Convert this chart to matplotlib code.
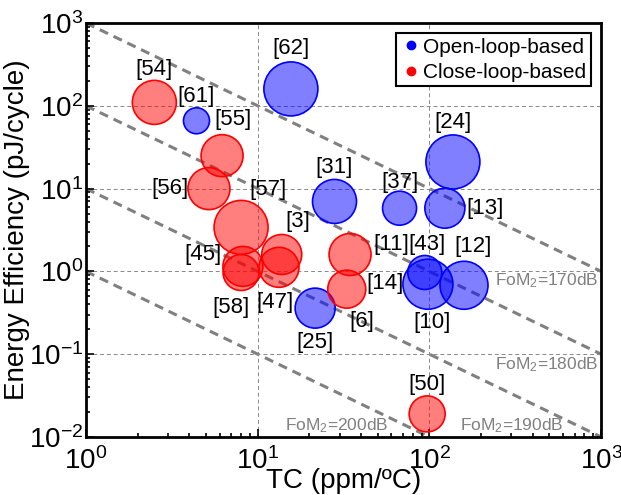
import numpy as np
import matplotlib
matplotlib.use("Agg")
import matplotlib.pyplot as plt
from matplotlib.lines import Line2D

plt.rcParams['font.family'] = ['Liberation Sans', 'DejaVu Sans']
plt.rcParams['mathtext.fontset'] = 'custom'
plt.rcParams['mathtext.rm'] = 'Liberation Sans'
plt.rcParams['mathtext.it'] = 'Liberation Sans'

# open-loop-based designs
open_refs = ['[61]', '[62]', '[31]', '[37]', '[24]', '[13]', '[25]', '[12]', '[10]', '[43]']
open_tc = [4.4, 15.6, 28, 67, 137, 123, 21.6, 159, 98, 94]
open_ee = [66, 160, 7.0, 5.8, 21, 5.8, 0.36, 0.68, 0.70, 0.97]
open_r = [13, 27, 22, 17, 27, 20, 20, 24, 25, 17]

# close-loop-based designs
close_refs = ['[54]', '[55]', '[56]', '[57]', '[3]', '[45]', '[58]', '[47]', '[11]', '[14]', '[50]']
close_tc = [2.5, 6.2, 5.2, 8.0, 13.8, 8.2, 8.0, 13.3, 34.5, 33, 97]
close_ee = [110, 25, 10, 3.4, 1.6, 1.15, 0.97, 1.12, 1.6, 0.61, 0.019]
close_r = [22, 21, 21, 27, 20, 20, 18, 20, 21, 19, 18]

# label offsets (pixels) from the bubble centre
open_off = [(0, 24), (0, 40), (0, 34), (0, 26), (0, 39), (40, 0), (0, -34), (9, 39), (4, -38), (2, 28)]
close_off = [(0, 33), (11, 36), (-39, 0), (27, 38), (16, 33), (-40, 12), (-10, -35), (-4, -35),
             (41, 10), (38, 6), (0, 29)]

fom_db = [170, 180, 190, 200]
fom_k = [1000, 100, 10, 1]   # EE * TC = const

fig = plt.figure(figsize=(6.21, 4.95), dpi=100)
ax = fig.add_axes([0.1385, 0.1172, 0.8295, 0.8363])
ax.set_xscale('log')
ax.set_yscale('log')
ax.set_xlim(1, 1000)
ax.set_ylim(0.01, 1000)

ax.grid(True, which='major', ls=(0, (4, 3)), color='#888888', lw=0.7)

xs = np.logspace(0, 3, 50)
for k in fom_k:
    ax.plot(xs, k / xs, ls=(0, (3, 2)), color='#808080', lw=2.2, zorder=1)

def bubbles(tc, ee, r, col, face):
    s = (2 * np.array(r) * 0.72) ** 2
    ax.scatter(tc, ee, s=s, facecolor=face, edgecolor=col, linewidth=1.2, zorder=3)

bubbles(open_tc, open_ee, open_r, 'blue', (0, 0, 1, 0.5))
bubbles(close_tc, close_ee, close_r, 'red', (1, 0, 0, 0.5))

for refs, tc, ee, off in [(open_refs, open_tc, open_ee, open_off),
                          (close_refs, close_tc, close_ee, close_off)]:
    for lab, x, y, o in zip(refs, tc, ee, off):
        ax.annotate(lab, (x, y), xytext=o, textcoords='offset pixels',
                    ha='center', va='center', fontsize=16, zorder=5)
# [6] sits with [14]
i14 = close_refs.index('[14]')
ax.annotate('[6]', (close_tc[i14], close_ee[i14]), xytext=(15, -32),
            textcoords='offset pixels', ha='center', va='center', fontsize=16, zorder=5)

fom_pos = [(0.994, 0.377, 'right'), (0.994, 0.174, 'right'), (0.827, 0.027, 'center'), (0.487, 0.027, 'center')]
for db, (fx, fy, ha) in zip(fom_db, fom_pos):
    ax.text(fx, fy, 'FoM$_2$=%ddB' % db, transform=ax.transAxes, ha=ha, va='center',
            color='#808080', fontsize=12.5, zorder=4)

for sp in ax.spines.values():
    sp.set_linewidth(2)
ax.tick_params(which='both', direction='in', top=False, right=False, labelsize=20, width=1.2)
ax.tick_params(which='major', length=6)
ax.tick_params(which='minor', length=3)
ax.tick_params(axis='x', pad=7)
ax.tick_params(axis='y', pad=2)

ax.set_xlabel('TC (ppm/ºC)', fontsize=20, labelpad=-5)
ax.set_ylabel('Energy Efficiency (pJ/cycle)', fontsize=20, labelpad=-1)

handles = [Line2D([], [], marker='o', ls='', color='blue', markersize=6, label='Open-loop-based'),
           Line2D([], [], marker='o', ls='', color='red', markersize=6, label='Close-loop-based')]
leg = ax.legend(handles=handles, loc='upper right', fontsize=15, fancybox=False, framealpha=1,
                edgecolor='black', handletextpad=0.1, borderpad=0.2, labelspacing=0.3,
                handlelength=1.0, borderaxespad=0.5)
leg.get_frame().set_linewidth(1.5)

fig.savefig('out.png', dpi=100)
